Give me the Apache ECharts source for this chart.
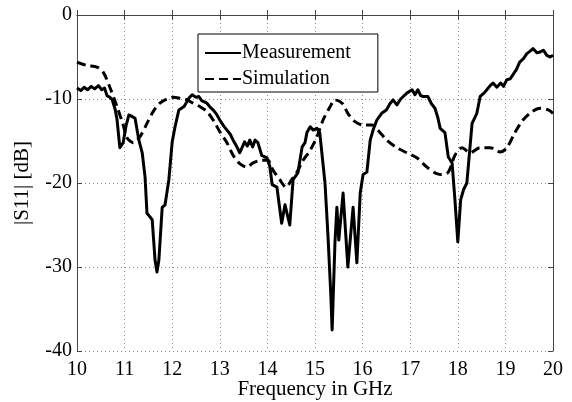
<!DOCTYPE html>
<html>
<head>
<meta charset="utf-8">
<script src="https://cdn.jsdelivr.net/npm/echarts@6/dist/echarts.min.js"></script>
<style>
  html, body { margin: 0; padding: 0; background: #fff; }
  #chart { width: 572px; height: 402px; }
</style>
</head>
<body>
<div id="chart"></div>
<script>
  // measured |S11| (solid)
  var measFreq = [10.0, 10.08, 10.15, 10.22, 10.3, 10.37, 10.45, 10.52, 10.58, 10.63, 10.69, 10.74, 10.8, 10.84, 10.9, 10.97, 11.03, 11.09, 11.16, 11.22, 11.3, 11.37, 11.43, 11.47, 11.53, 11.58, 11.64, 11.68, 11.72, 11.79, 11.85, 11.93, 12.0, 12.06, 12.14, 12.25, 12.35, 12.42, 12.46, 12.5, 12.56, 12.62, 12.73, 12.8, 12.86, 12.93, 13.0, 13.08, 13.15, 13.22, 13.28, 13.35, 13.42, 13.52, 13.58, 13.63, 13.69, 13.74, 13.8, 13.88, 13.99, 14.05, 14.1, 14.2, 14.3, 14.37, 14.47, 14.54, 14.64, 14.73, 14.79, 14.83, 14.9, 14.96, 15.04, 15.1, 15.21, 15.27, 15.33, 15.36, 15.38, 15.42, 15.46, 15.5, 15.59, 15.69, 15.8, 15.88, 15.95, 16.01, 16.09, 16.16, 16.22, 16.3, 16.4, 16.5, 16.57, 16.64, 16.72, 16.8, 16.93, 17.04, 17.1, 17.16, 17.22, 17.27, 17.37, 17.45, 17.52, 17.58, 17.63, 17.73, 17.8, 17.88, 17.94, 18.0, 18.06, 18.12, 18.19, 18.3, 18.4, 18.47, 18.55, 18.61, 18.68, 18.74, 18.82, 18.9, 18.96, 19.03, 19.1, 19.16, 19.23, 19.3, 19.38, 19.45, 19.52, 19.58, 19.66, 19.73, 19.8, 19.87, 19.94, 20.0];
  var measDb = [-8.7, -9.0, -8.6, -8.9, -8.5, -8.8, -8.4, -8.9, -8.7, -9.6, -9.8, -10.1, -11.2, -12.4, -15.8, -15.2, -13.2, -11.9, -12.1, -12.3, -14.9, -16.4, -19.3, -23.6, -24.0, -24.4, -29.2, -30.6, -29.2, -22.9, -22.6, -19.6, -15.1, -13.3, -11.3, -10.9, -9.9, -9.5, -9.3, -9.8, -9.7, -10.2, -10.5, -11.0, -11.3, -11.8, -12.5, -13.2, -13.7, -14.2, -14.9, -15.6, -16.4, -15.1, -15.6, -14.9, -15.7, -14.9, -15.2, -16.7, -17.0, -18.0, -20.2, -20.5, -24.8, -22.6, -25.0, -19.6, -18.8, -15.7, -15.2, -14.0, -13.3, -13.7, -13.5, -14.0, -20.0, -26.0, -33.0, -37.5, -34.0, -27.0, -22.9, -26.8, -21.2, -30.0, -22.9, -29.5, -21.2, -19.0, -18.7, -14.9, -13.7, -12.5, -11.7, -11.3, -10.6, -10.1, -10.7, -10.0, -9.3, -8.9, -9.5, -8.9, -9.6, -9.7, -9.7, -10.6, -11.1, -12.2, -13.5, -14.0, -16.9, -17.6, -22.0, -27.0, -22.0, -20.8, -20.0, -12.9, -11.7, -9.7, -9.3, -8.9, -8.4, -8.1, -8.6, -8.1, -8.5, -7.7, -7.6, -7.1, -6.5, -5.6, -5.2, -4.6, -4.3, -4.0, -4.5, -4.4, -4.2, -4.8, -5.0, -4.8];

  // simulated |S11| (dashed)
  var simFreq = [10.0, 10.2, 10.42, 10.55, 10.69, 10.84, 10.97, 11.05, 11.18, 11.32, 11.47, 11.6, 11.74, 11.89, 12.02, 12.16, 12.31, 12.44, 12.58, 12.73, 12.86, 13.0, 13.15, 13.28, 13.42, 13.57, 13.7, 13.88, 14.01, 14.12, 14.26, 14.39, 14.51, 14.64, 14.75, 14.9, 15.04, 15.17, 15.32, 15.42, 15.57, 15.69, 15.84, 16.01, 16.2, 16.32, 16.51, 16.72, 16.93, 17.14, 17.35, 17.63, 17.8, 17.94, 18.09, 18.26, 18.47, 18.68, 18.89, 19.03, 19.2, 19.37, 19.56, 19.73, 19.9, 20.0];
  var simDb = [-5.6, -6.0, -6.2, -6.8, -8.6, -10.9, -13.1, -14.6, -15.2, -14.5, -12.9, -11.5, -10.5, -10.0, -9.8, -9.9, -10.1, -10.5, -10.9, -11.5, -12.5, -13.9, -15.2, -16.7, -17.7, -18.1, -17.6, -17.3, -17.3, -18.5, -19.6, -20.5, -19.6, -18.5, -17.3, -16.1, -14.5, -12.5, -10.9, -10.1, -10.5, -11.7, -12.7, -13.1, -13.1, -13.7, -14.9, -15.8, -16.4, -17.0, -18.1, -19.0, -18.7, -16.7, -15.8, -16.4, -15.8, -15.8, -16.3, -15.8, -14.0, -12.5, -11.5, -11.1, -11.3, -11.7];

  var xTicks = [10, 20, 1];
  var yTicks = [-40, 0, 10];

  function pairs(xs, ys) {
    var out = [];
    for (var i = 0; i < xs.length; i++) out.push([xs[i], ys[i]]);
    return out;
  }

  var font = 'Liberation Serif';
  var chart = echarts.init(document.getElementById('chart'));

  chart.setOption({
    animation: false,
    grid: { left: 77, right: 19, top: 15, bottom: 51, containLabel: false, outerBoundsMode: 'none' },
    legend: {
      left: 198, top: 34,
      orient: 'vertical',
      padding: [9, 27, 3, 6],
      itemGap: 6,
      itemWidth: 36, itemHeight: 14,
      borderColor: '#000', borderWidth: 1,
      backgroundColor: '#fff',
      // hide the round marker ECharts puts on line legend icons
      itemStyle: { color: 'rgba(0,0,0,0)', borderWidth: 0 },
      textStyle: { fontFamily: font, fontSize: 20, color: '#000', padding: [0, 0, 0, -4] },
      data: ['Measurement', 'Simulation']
    },
    xAxis: [{
      type: 'value',
      min: xTicks[0], max: xTicks[1], interval: xTicks[2],
      name: 'Frequency in GHz',
      nameLocation: 'middle', nameGap: 28, nameMoveOverlap: false,
      nameTextStyle: { fontFamily: font, fontSize: 21, color: '#000' },
      axisLine: { lineStyle: { color: '#444', width: 1 } },
      axisTick: { inside: true, length: 5, lineStyle: { color: '#444' } },
      axisLabel: { fontFamily: font, fontSize: 20, color: '#000', margin: 9 },
      splitLine: { show: true, lineStyle: { color: '#888', type: [1, 3], width: 1 } }
    }, {
      type: 'value', position: 'top',
      min: xTicks[0], max: xTicks[1], interval: xTicks[2],
      axisLine: { show: true, lineStyle: { color: '#444', width: 1 } },
      axisTick: { show: true, inside: true, length: 5, lineStyle: { color: '#444' } },
      axisLabel: { show: false },
      splitLine: { show: false }
    }],
    yAxis: [{
      type: 'value',
      min: yTicks[0], max: yTicks[1], interval: yTicks[2],
      name: '|S11| [dB]',
      nameLocation: 'middle', nameGap: 44, nameMoveOverlap: false,
      nameTextStyle: { fontFamily: font, fontSize: 21, color: '#000' },
      axisLine: { show: true, lineStyle: { color: '#444', width: 1 } },
      axisTick: { show: true, inside: true, length: 5, lineStyle: { color: '#444' } },
      axisLabel: { fontFamily: font, fontSize: 20, color: '#000', margin: 5 },
      splitLine: { show: true, lineStyle: { color: '#888', type: [1, 3], width: 1 } }
    }, {
      type: 'value', position: 'right',
      min: yTicks[0], max: yTicks[1], interval: yTicks[2],
      axisLine: { show: true, lineStyle: { color: '#444', width: 1 } },
      axisTick: { show: true, inside: true, length: 5, lineStyle: { color: '#444' } },
      axisLabel: { show: false },
      splitLine: { show: false }
    }],
    series: [{
      name: 'Measurement',
      type: 'line',
      symbol: 'none',
      data: pairs(measFreq, measDb),
      lineStyle: { color: '#000', width: 3, join: 'round' },
      itemStyle: { color: '#000' }
    }, {
      name: 'Simulation',
      type: 'line',
      symbol: 'none',
      smooth: 0.3,
      data: pairs(simFreq, simDb),
      lineStyle: { color: '#000', width: 3, type: [9, 5] },
      itemStyle: { color: '#000' }
    }]
  });
</script>
</body>
</html>
